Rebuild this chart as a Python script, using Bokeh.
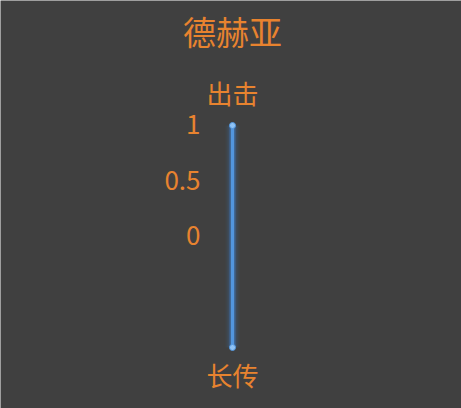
import math
from bokeh.plotting import figure
from bokeh.models import ColumnDataSource
from bokeh.core.properties import value
from bokeh.embed import file_html
from bokeh.resources import INLINE

title_text = "德赫亚"
indicators = ["出击", "长传"]
indicator_max = [1, 1]
series_values = [1, 1]
tick_values = [0, 0.5, 1]
tick_labels = ["0", "0.5", "1"]

W, H = 461, 408
CX, CY = 232, 236  # centre in pixels from top-left
R = 111  # radius in pixels
TXT_SHIFT = 3  # text baseline correction in pixels

p = figure(width=W, height=H, output_backend="svg", toolbar_location=None,
           x_range=(-CX, W - CX), y_range=(-(H - CY), CY),
           min_border=0, background_fill_color="#404040",
           border_fill_color="#404040", outline_line_color=None)
p.axis.visible = False
p.grid.visible = False
p.styles = {"position": "absolute", "left": "0px", "top": "0px"}

orange = "#e8832f"
font = value("Noto Sans CJK SC")

n = len(indicators)
angles = [math.pi / 2 - 2 * math.pi * i / n for i in range(n)]
xs = [series_values[i] / indicator_max[i] * R * math.cos(angles[i]) for i in range(n)]
ys = [series_values[i] / indicator_max[i] * R * math.sin(angles[i]) for i in range(n)]
xs_c = xs + [xs[0]]
ys_c = ys + [ys[0]]

# glow
for w, a in [(14, 0.06), (10, 0.12), (7, 0.25)]:
    p.line(xs_c, ys_c, line_color="#3a86e0", line_width=w, line_alpha=a)
p.line(xs_c, ys_c, line_color="#5296de", line_width=3.5)
p.scatter(xs, ys, size=6, fill_color="#8fc3f5", line_color="#5296de", line_width=1)

# indicator names
lx = [(R + 30) * math.cos(a) for a in angles]
ly = [(R + 30) * math.sin(a) + TXT_SHIFT for a in angles]
p.text(x=lx, y=ly, text=indicators, text_font=font, text_font_size="26px",
       text_color=orange, text_align="center", text_baseline="middle")

# radial tick labels
tsrc = ColumnDataSource(dict(x=[-32] * len(tick_values),
                             y=[v / indicator_max[0] * R + 1 for v in tick_values],
                             t=tick_labels))
p.text(x="x", y="y", text="t", source=tsrc, text_font=font, text_font_size="26px",
       text_color=orange, text_align="right", text_baseline="middle")

# title
p.text(x=[0], y=[CY - 30], text=[title_text], text_font=font, text_font_size="33px",
       text_color=orange, text_align="center", text_baseline="middle")

open("out.html", "w").write(file_html(p, INLINE))
